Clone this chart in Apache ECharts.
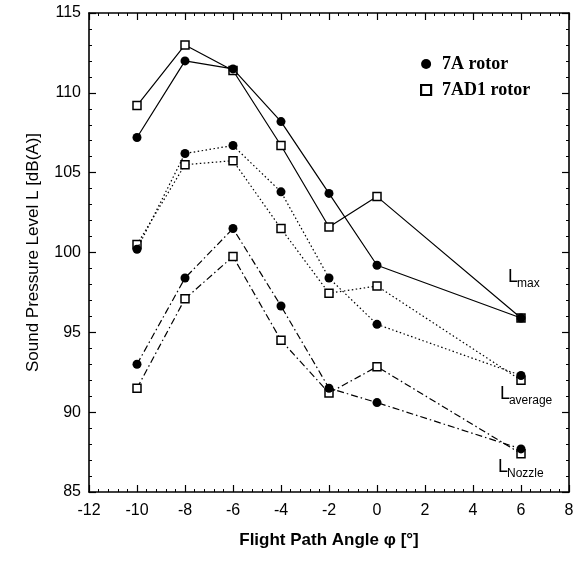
<!DOCTYPE html>
<html><head><meta charset="utf-8">
<script src="https://cdn.jsdelivr.net/npm/echarts@6/dist/echarts.min.js"></script>
<style>html,body{margin:0;padding:0;background:#fff}#c{width:580px;height:561px}</style>
</head><body><div id="c"></div>
<script>
// Flight path angle (deg)
const angles = [-10, -8, -6, -4, -2, 0, 6];
// Sound pressure level, dB(A)
const lmax7A    = [107.2, 112.0, 111.5, 108.2, 103.7, 99.2, 95.9];
const lmax7AD1  = [109.2, 113.0, 111.4, 106.7, 101.6, 103.5, 95.9];
const lavg7A    = [100.2, 106.2, 106.7, 103.8, 98.4, 95.5, 92.3];
const lavg7AD1  = [100.5, 105.5, 105.75, 101.5, 97.45, 97.9, 92.0];
const lnoz7A    = [93.0, 98.4, 101.5, 96.65, 91.5, 90.6, 87.7];
const lnoz7AD1  = [91.5, 97.1, 99.75, 94.5, 91.2, 92.85, 87.4];
// axis ranges
const xRange = {min: -12, max: 8, interval: 2};
const yRange = {min: 85, max: 115, interval: 5};
// curve labels (main letter, subscript, anchor in data coords)
const curveLabels = [
  {main: 'L', sub: 'max',     x: 5.46, y: 97.9},
  {main: 'L', sub: 'average', x: 5.12, y: 90.6},
  {main: 'L', sub: 'Nozzle',  x: 5.04, y: 86.0}
];

const SANS = '"Liberation Sans", Arial, Helvetica, sans-serif';
const SERIF = '"Liberation Serif", "Times New Roman", serif';
const DOT = [1.5, 2.5];
const DASHDOT = [7, 3, 1.5, 3];

function pairs(vals) { return angles.map((a, i) => [a, vals[i]]); }
function mk(name, vals, dash, filled) {
  return {
    type: 'line', name: name, data: pairs(vals),
    xAxisIndex: 0, yAxisIndex: 0,
    symbol: filled ? 'circle' : 'rect',
    symbolSize: filled ? 9 : 8,
    showSymbol: true, z: filled ? 4 : 3,
    lineStyle: {color: '#000', width: 1.2, type: dash},
    itemStyle: filled ? {color: '#000', borderColor: '#000', borderWidth: 0}
                      : {color: '#fff', borderColor: '#000', borderWidth: 1.5},
    emphasis: {disabled: true}, animation: false
  };
}

function axisBase(extra) {
  return Object.assign({
    type: 'value',
    axisLine: {show: true, onZero: false, lineStyle: {color: '#000', width: 1.6}},
    axisTick: {show: true, inside: true, length: 7, lineStyle: {color: '#000', width: 1.2}},
    minorTick: {show: true, splitNumber: 5, length: 3, lineStyle: {color: '#000', width: 1}},
    splitLine: {show: false}, minorSplitLine: {show: false}
  }, extra);
}

const chart = echarts.init(document.getElementById('c'), null, {renderer: 'canvas'});
chart.setOption({
  backgroundColor: '#fff',
  animation: false,
  grid: {left: 89, right: 11, top: 13, bottom: 69, containLabel: false},
  xAxis: [
    axisBase({position: 'bottom', min: xRange.min, max: xRange.max, interval: xRange.interval,
      name: 'Flight Path Angle \u03c6 [\u00b0]', nameLocation: 'middle', nameGap: 40,
      nameTextStyle: {fontFamily: SANS, fontSize: 17, fontWeight: 'bold', color: '#000'},
      axisLabel: {show: true, margin: 11, fontFamily: SANS, fontSize: 16, color: '#000'}}),
    axisBase({position: 'top', min: xRange.min, max: xRange.max, interval: xRange.interval,
      axisLabel: {show: false}})
  ],
  yAxis: [
    axisBase({position: 'left', min: yRange.min, max: yRange.max, interval: yRange.interval,
      name: 'Sound Pressure Level L [dB(A)]', nameLocation: 'middle', nameGap: 47,
      nameTextStyle: {fontFamily: SANS, fontSize: 17, color: '#000'},
      axisLabel: {show: true, margin: 8, fontFamily: SANS, fontSize: 16, color: '#000'}}),
    axisBase({position: 'right', min: yRange.min, max: yRange.max, interval: yRange.interval,
      axisLabel: {show: false}})
  ],
  legend: {
    show: true, orient: 'vertical', left: 415, top: 50,
    itemWidth: 10, itemHeight: 10, itemGap: 8, selectedMode: false,
    textStyle: {fontFamily: SERIF, fontSize: 18, fontWeight: 'bold', color: '#000', padding: [0, 0, 0, 6]},
    data: [
      {name: '7A rotor', icon: 'circle', itemStyle: {color: '#000', borderWidth: 0}},
      {name: '7AD1 rotor', icon: 'rect', itemStyle: {color: '#fff', borderColor: '#000', borderWidth: 2.2}}
    ]
  },
  series: [
    mk('7AD1 rotor', lmax7AD1, 'solid', false),
    mk('7A rotor', lmax7A, 'solid', true),
    mk('7AD1 rotor', lavg7AD1, DOT, false),
    mk('7A rotor', lavg7A, DOT, true),
    mk('7AD1 rotor', lnoz7AD1, DASHDOT, false),
    mk('7A rotor', lnoz7A, DASHDOT, true)
  ]
});

// curve labels placed from data coordinates
const g = [];
curveLabels.forEach(function (c) {
  const p = chart.convertToPixel({xAxisIndex: 0, yAxisIndex: 0}, [c.x, c.y]);
  g.push({type: 'text', x: p[0], y: p[1], z: 10,
    style: {text: c.main, font: '18px ' + SANS, fill: '#000', align: 'left', verticalAlign: 'bottom'}});
  g.push({type: 'text', x: p[0] + 9, y: p[1] + 4, z: 10,
    style: {text: c.sub, font: '12px ' + SANS, fill: '#000', align: 'left', verticalAlign: 'bottom'}});
});
chart.setOption({graphic: g});
</script>
</body></html>
